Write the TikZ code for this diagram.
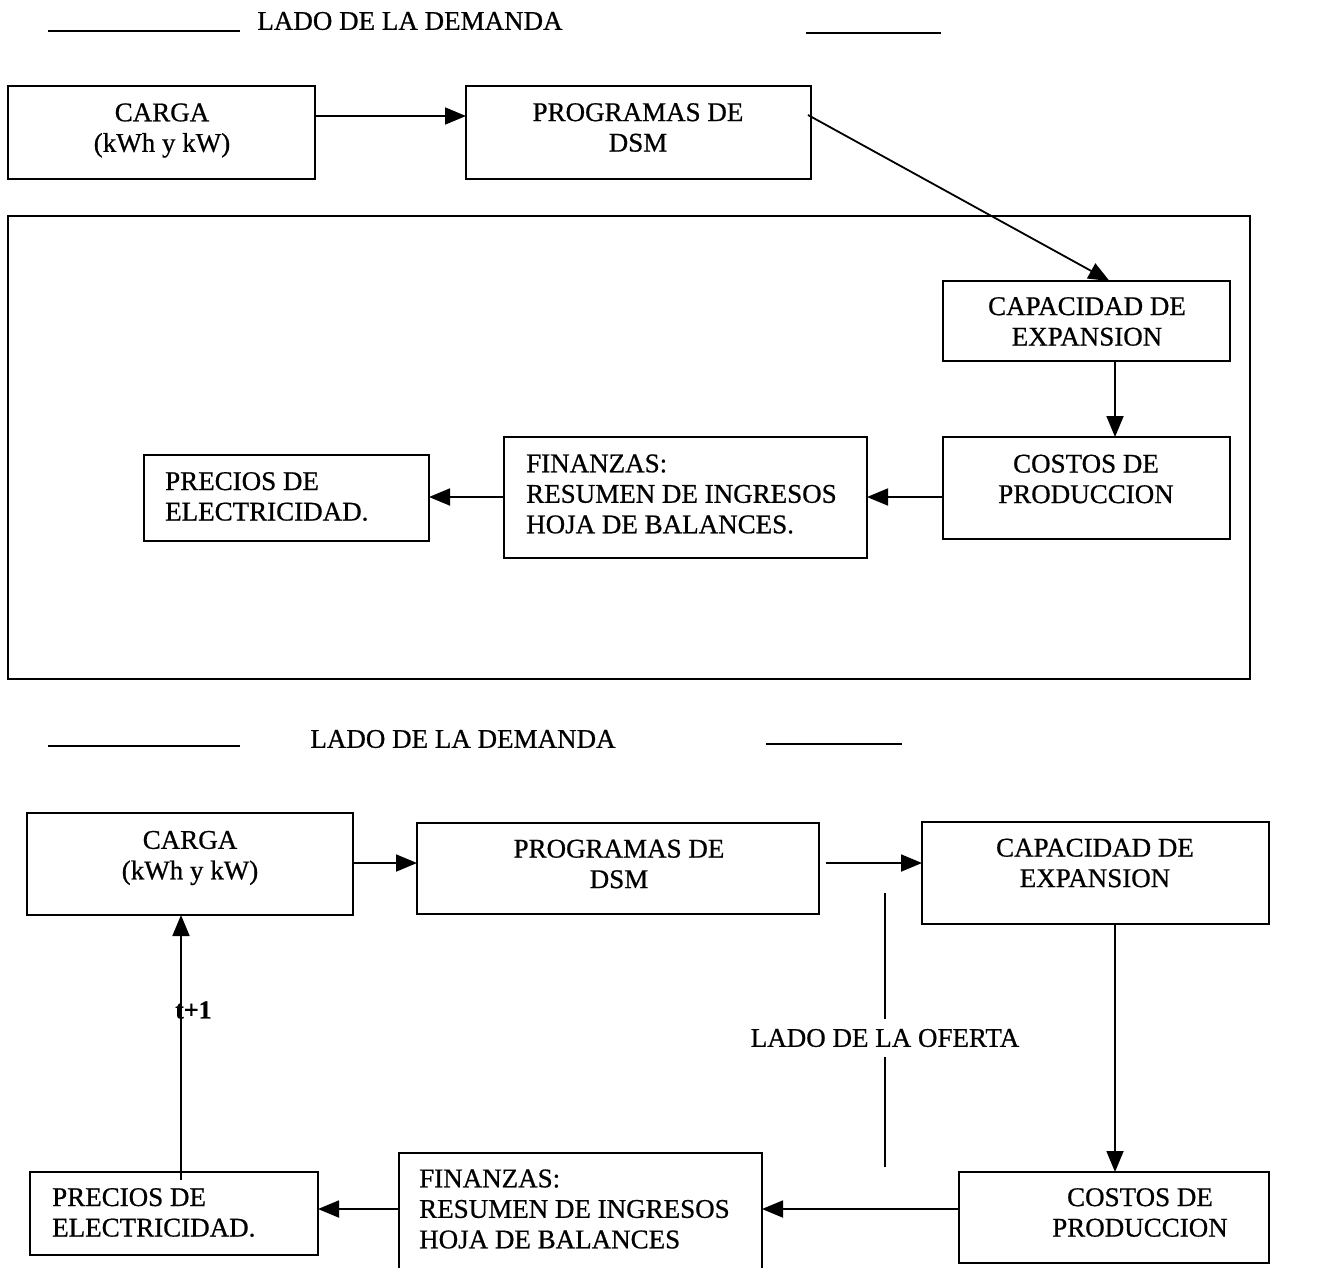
\documentclass[tikz,border=0pt]{standalone}
\usepackage{fontspec}
\setmainfont{Liberation Serif}[FakeBold=0.7]
\usetikzlibrary{arrows.meta}
\begin{document}
\begin{tikzpicture}[x=1pt,y=-1pt,
  box/.style={draw, line width=1.9pt, rectangle, anchor=north west, inner sep=0pt, outer sep=0pt},
  txt/.style={font=\fontsize{27}{30.5}\selectfont, inner sep=0pt, align=center},
  ltxt/.style={font=\fontsize{27}{30.5}\selectfont, inner sep=0pt, align=left, anchor=west},
  arr/.style={line width=1.8pt, -{Triangle[length=21pt,width=17pt]}},
  rule/.style={line width=1.6pt}]
\useasboundingbox (0,0) rectangle (1333,1267);
\clip (0,0) rectangle (1333,1267);

% ---------- upper scheme ----------
\draw[rule] (48,31) -- (240,31);
\draw[rule] (806,33) -- (941,33);
\node[txt] (headA) at (410,21) {LADO DE LA DEMANDA};

\node[box, minimum width=307pt, minimum height=93pt] (cargaA) at (8,86) {};
\node[box, minimum width=345pt, minimum height=93pt] (progA) at (466,86) {};
\node[box, minimum width=1242pt, minimum height=463pt] (frameA) at (8,216) {};
\node[box, minimum width=287pt, minimum height=80pt] (capA) at (943,281) {};
\node[box, minimum width=287pt, minimum height=102pt] (costA) at (943,437) {};
\node[box, minimum width=363pt, minimum height=121pt] (finA) at (504,437) {};
\node[box, minimum width=285pt, minimum height=86pt] (precA) at (144,455) {};

\node[txt] (tCargaA) at (162,130.5) {CARGA\\(kWh y kW)};
\node[txt] (tProgA) at (638,127.5) {PROGRAMAS DE\\DSM};
\node[txt] (tCapA) at (1087,321.5) {CAPACIDAD DE\\EXPANSION};
\node[txt] (tCostA) at (1086,479) {COSTOS DE\\PRODUCCION};
\node[ltxt] (tFinA) at (526,494) {FINANZAS:\\RESUMEN DE INGRESOS\\HOJA DE BALANCES.};
\node[ltxt] (tPrecA) at (165,496.5) {PRECIOS DE\\ELECTRICIDAD.};

\coordinate (a1) at ([yshift=-30pt]cargaA.north east);
\draw[arr] (a1) -- (progA.west |- a1);
\coordinate (a2) at ([shift={(-3pt,-29pt)}]progA.north east);
\draw[arr] (a2) -- ([xshift=23pt]capA.north);
\coordinate (a3) at ([xshift=28.5pt]capA.south);
\draw[arr] (a3) -- (costA.north -| a3);
\coordinate (a4) at ([yshift=-60pt]costA.north west);
\draw[arr] (a4) -- (finA.east |- a4);
\coordinate (a5) at ([yshift=-60pt]finA.north west);
\draw[arr] (a5) -- (precA.east |- a5);

% ---------- lower scheme ----------
\draw[rule] (48,746) -- (240,746);
\draw[rule] (766,744) -- (902,744);
\node[txt] (headB) at (463,739) {LADO DE LA DEMANDA};

\node[box, minimum width=326pt, minimum height=102pt] (cargaB) at (27,813) {};
\node[box, minimum width=402pt, minimum height=91pt] (progB) at (417,823) {};
\node[box, minimum width=347pt, minimum height=102pt] (capB) at (922,822) {};
\node[box, minimum width=310pt, minimum height=91pt] (costB) at (959,1172) {};
\node[box, minimum width=363pt, minimum height=130pt] (finB) at (399,1153) {};
\node[box, minimum width=288pt, minimum height=83pt] (precB) at (30,1172) {};

\node[txt] (tCargaB) at (190,858) {CARGA\\(kWh y kW)};
\node[txt] (tProgB) at (619,864) {PROGRAMAS DE\\DSM};
\node[txt] (tCapB) at (1095,863) {CAPACIDAD DE\\EXPANSION};
\node[txt] (tCostB) at (1140,1212.5) {COSTOS DE\\PRODUCCION};
\node[ltxt] (tFinB) at (419,1209) {FINANZAS:\\RESUMEN DE INGRESOS\\HOJA DE BALANCES};
\node[ltxt] (tPrecB) at (52,1212.5) {PRECIOS DE\\ELECTRICIDAD.};

% supply side divider
\node[txt, inner ysep=10pt] (ofer) at (885,1038) {LADO DE LA OFERTA};
\coordinate (sepTop) at (885,893);
\coordinate (sepBot) at (885,1167);
\draw[rule] (sepTop) -- (ofer.north);
\draw[rule] (ofer.south) -- (sepBot);

\coordinate (b1) at ([yshift=-50pt]cargaB.north east);
\draw[arr] (b1) -- (progB.west |- b1);
\coordinate (b2) at ([shift={(7pt,-40pt)}]progB.north east);
\draw[arr] (b2) -- (capB.west |- b2);
\coordinate (b3) at ([xshift=193pt]capB.south west);
\draw[arr] (b3) -- (costB.north -| b3);
\coordinate (b4) at ([yshift=-37pt]costB.north west);
\draw[arr] (b4) -- (finB.east |- b4);
\coordinate (b5) at ([yshift=-56pt]finB.north west);
\draw[arr] (b5) -- (precB.east |- b5);
\coordinate (b6) at ([shift={(151pt,-8pt)}]precB.north west);
\draw[arr] (b6) -- (cargaB.south -| b6);
\node[font=\fontsize{26}{30}\selectfont\bfseries, inner sep=0pt, anchor=west] (tNext) at (175,1010) {t+1};
\end{tikzpicture}
\end{document}
